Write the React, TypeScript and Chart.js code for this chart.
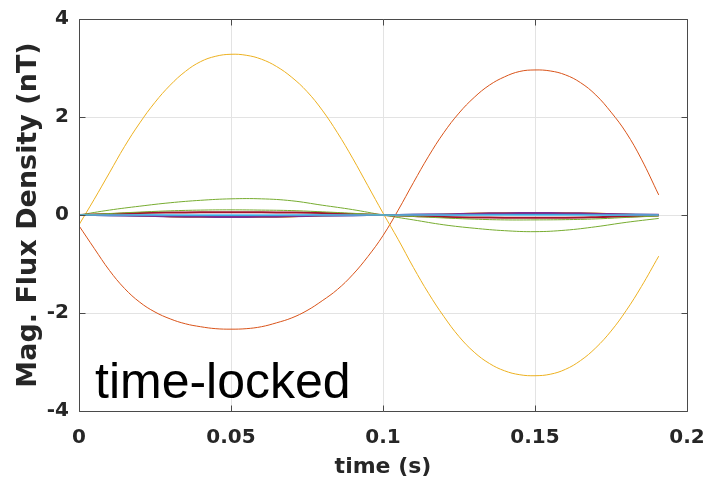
import React, { useEffect, useRef } from "react";
import { Chart, registerables } from "chart.js";

Chart.register(...registerables);

// ---- data ----
const TIME_FINE = [
  0, 0.005, 0.01, 0.015, 0.02, 0.025, 0.03, 0.035, 0.04, 0.045,
  0.05, 0.055, 0.06, 0.065, 0.07, 0.075, 0.08, 0.085, 0.09, 0.095,
  0.1, 0.105, 0.11, 0.115, 0.12, 0.125, 0.13, 0.135, 0.14, 0.145,
  0.15, 0.155, 0.16, 0.165, 0.17, 0.175, 0.18, 0.185, 0.1907,
];
const YELLOW_MAIN = [
  -0.2, 0.32, 0.86, 1.4, 1.88, 2.3, 2.65, 2.93, 3.13, 3.24,
  3.28, 3.26, 3.18, 3.03, 2.81, 2.52, 2.14, 1.68, 1.16, 0.6,
  0.04, -0.5, -1.07, -1.6, -2.07, -2.48, -2.8, -3.03, -3.18, -3.26,
  -3.28, -3.25, -3.15, -2.97, -2.71, -2.37, -1.95, -1.46, -0.84,
];
const ORANGE_MAIN = [
  -0.22, -0.68, -1.13, -1.5, -1.78, -1.98, -2.12, -2.22, -2.28, -2.32,
  -2.33, -2.32, -2.28, -2.2, -2.1, -1.95, -1.75, -1.52, -1.22, -0.85,
  -0.42, 0.1, 0.66, 1.2, 1.68, 2.08, 2.4, 2.65, 2.82, 2.93,
  2.96, 2.94, 2.86, 2.7, 2.45, 2.1, 1.68, 1.14, 0.41,
];

const TIME_COARSE = [
  0, 0.01, 0.02, 0.03, 0.04, 0.05, 0.06, 0.07, 0.08, 0.09,
  0.1, 0.11, 0.12, 0.13, 0.14, 0.15, 0.16, 0.17, 0.18, 0.1907,
];
const GREEN_MAIN = [
  0, 0.1, 0.18, 0.25, 0.3, 0.33, 0.33, 0.29, 0.2, 0.11,
  0, -0.1, -0.2, -0.27, -0.32, -0.34, -0.31, -0.24, -0.15, -0.07,
];
const GREEN_SMALL = [
  0, 0.03, 0.06, 0.085, 0.1, 0.105, 0.1, 0.09, 0.065, 0.035,
  0, -0.03, -0.06, -0.085, -0.1, -0.1, -0.095, -0.08, -0.05, -0.02,
];
const DARKRED_SMALL = [
  0, 0.02, 0.04, 0.05, 0.055, 0.055, 0.055, 0.05, 0.04, 0.02,
  0, -0.02, -0.04, -0.05, -0.055, -0.055, -0.055, -0.045, -0.03, -0.01,
];
const YELLOW_SMALL = [
  0, 0, -0.01, -0.035, -0.045, -0.045, -0.045, -0.035, -0.01, 0,
  0, 0, 0.01, 0.035, 0.045, 0.045, 0.045, 0.035, 0.01, 0,
];
const PURPLE_SMALL = [
  0, -0.005, -0.015, -0.03, -0.038, -0.04, -0.038, -0.028, -0.012, -0.005,
  0, 0.005, 0.012, 0.028, 0.038, 0.04, 0.038, 0.028, 0.01, 0.003,
];
const BLUE_SMALL = [
  0, -0.003, -0.008, -0.015, -0.02, -0.022, -0.02, -0.015, -0.008, -0.003,
  0, 0.003, 0.008, 0.015, 0.02, 0.022, 0.02, 0.015, 0.008, 0.002,
];
const CYAN_ZERO = [
  0, 0, 0, 0, 0, 0, 0, 0, 0, 0,
  0, 0, 0, 0, 0, 0, 0, 0, 0, 0,
];

const X_TICKS = [0, 0.05, 0.1, 0.15, 0.2];
const X_TICK_LABELS = ["0", "0.05", "0.1", "0.15", "0.2"];
const Y_TICKS = [-4, -2, 0, 2, 4];
const Y_TICK_LABELS = ["-4", "-2", "0", "2", "4"];
const X_TITLE = "time (s)";
const Y_TITLE = "Mag. Flux Density (nT)";
const ANNOTATION = "time-locked";

const BOX_COLOR = "#4a4a4a";
const GRID_COLOR = "#e3e3e3";
const TEXT_COLOR = "#262626";

function pts(xs: number[], ys: number[]) {
  return xs.map((x, i) => ({ x, y: ys[i] }));
}

const boxPlugin = {
  id: "matlabBox",
  afterDraw(chart: any) {
    const { ctx, chartArea } = chart;
    const xs = chart.scales.x;
    const ys = chart.scales.y;
    ctx.save();
    ctx.strokeStyle = BOX_COLOR;
    ctx.lineWidth = 1;
    ctx.beginPath();
    const L = Math.round(chartArea.left) + 0.5;
    const R = Math.round(chartArea.right) + 0.5;
    const T = Math.round(chartArea.top) + 0.5;
    const B = Math.round(chartArea.bottom) + 0.5;
    ctx.rect(L, T, R - L, B - T);
    const tl = 6;
    X_TICKS.forEach((v) => {
      const px = Math.round(xs.getPixelForValue(v)) + 0.5;
      ctx.moveTo(px, B);
      ctx.lineTo(px, B - tl);
      ctx.moveTo(px, T);
      ctx.lineTo(px, T + tl);
    });
    Y_TICKS.forEach((v) => {
      const py = Math.round(ys.getPixelForValue(v)) + 0.5;
      ctx.moveTo(L, py);
      ctx.lineTo(L + tl, py);
      ctx.moveTo(R, py);
      ctx.lineTo(R - tl, py);
    });
    ctx.stroke();
    // annotation text inside the axes
    ctx.fillStyle = "#000000";
    ctx.font = "50px 'Liberation Sans', Arial, sans-serif";
    ctx.textAlign = "left";
    ctx.textBaseline = "alphabetic";
    ctx.fillText(ANNOTATION, chartArea.left + 16, chartArea.bottom - 13);
    ctx.restore();
  },
};

export default function App() {
  const ref = useRef<HTMLCanvasElement | null>(null);

  useEffect(() => {
    if (!ref.current) return;
    const mk = (label: string, xs: number[], ys: number[], color: string, w = 1) => ({
      label,
      data: pts(xs, ys),
      borderColor: color,
      backgroundColor: color,
      borderWidth: w,
      pointRadius: 0,
      fill: false,
      tension: 0.4,
    });
    // listed bottom-to-top in drawing order
    const list = [
      mk("blue", TIME_COARSE, BLUE_SMALL, "#0072BD", 2),
      mk("orange", TIME_FINE, ORANGE_MAIN, "#D95319"),
      mk("yellow", TIME_FINE, YELLOW_MAIN, "#EDB120"),
      mk("yellow2", TIME_COARSE, YELLOW_SMALL, "#EDB120", 1.5),
      mk("purple", TIME_COARSE, PURPLE_SMALL, "#7E2F8E", 2),
      mk("green", TIME_COARSE, GREEN_MAIN, "#77AC30"),
      mk("darkred", TIME_COARSE, DARKRED_SMALL, "#A2142F", 2),
      mk("green2", TIME_COARSE, GREEN_SMALL, "#77AC30"),
      mk("cyan", TIME_COARSE, CYAN_ZERO, "#4DBEEE", 1.5),
    ];
    const datasets = list.map((d, i) => ({ ...d, order: list.length - i }));

    const chart = new Chart(ref.current, {
      type: "line",
      data: { datasets },
      options: {
        animation: false,
        responsive: false,
        maintainAspectRatio: false,
        devicePixelRatio: 1,
        layout: { padding: { top: 19, right: 22, left: 0, bottom: 0 } },
        plugins: { legend: { display: false }, tooltip: { enabled: false } },
        elements: { point: { radius: 0 } },
        scales: {
          x: {
            type: "linear",
            min: 0,
            max: 0.2,
            afterBuildTicks: (s: any) => {
              s.ticks = X_TICKS.map((v) => ({ value: v }));
            },
            afterFit: (s: any) => {
              s.height = 71;
              s.paddingLeft = 0;
              s.paddingRight = 0;
            },
            ticks: {
              callback: (_v: any, i: number) => X_TICK_LABELS[i],
              color: TEXT_COLOR,
              font: { family: "'DejaVu Sans'", weight: "bold", size: 20 },
              padding: 15,
              maxRotation: 0,
            },
            grid: { color: GRID_COLOR, drawTicks: false, lineWidth: 1 },
            border: { display: false },
            title: {
              display: true,
              text: X_TITLE,
              color: TEXT_COLOR,
              font: { family: "'DejaVu Sans'", weight: "bold", size: 22 },
              padding: { top: 0, bottom: 2 },
            },
          },
          y: {
            type: "linear",
            min: -4,
            max: 4,
            afterBuildTicks: (s: any) => {
              s.ticks = Y_TICKS.map((v) => ({ value: v }));
            },
            afterFit: (s: any) => {
              s.width = 79;
              s.paddingTop = 0;
              s.paddingBottom = 0;
            },
            ticks: {
              callback: (_v: any, i: number) => Y_TICK_LABELS[i],
              color: TEXT_COLOR,
              font: { family: "'DejaVu Sans'", weight: "bold", size: 20 },
              padding: 10,
            },
            grid: { color: GRID_COLOR, drawTicks: false, lineWidth: 1 },
            border: { display: false },
            title: {
              display: true,
              text: Y_TITLE,
              color: TEXT_COLOR,
              font: { family: "'DejaVu Sans'", weight: "bold", size: 27 },
              padding: { top: 13, bottom: 0 },
            },
          },
        },
      },
      plugins: [boxPlugin],
    });
    return () => chart.destroy();
  }, []);

  return (
    <div style={{ position: "absolute", left: 0, top: 0, width: 709, height: 482, background: "#ffffff" }}>
      <canvas ref={ref} width={709} height={482} style={{ width: 709, height: 482, display: "block" }} />
    </div>
  );
}
